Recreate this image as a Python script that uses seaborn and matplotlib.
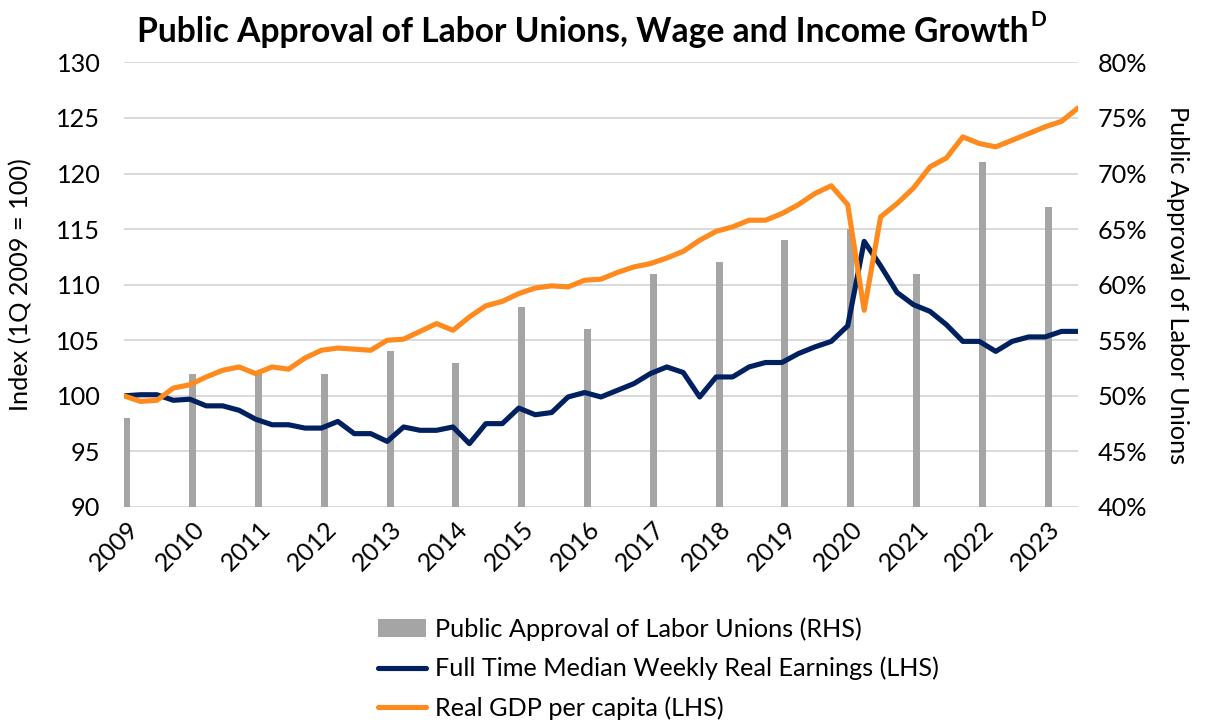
import numpy as np
import matplotlib
matplotlib.use("Agg")
import matplotlib.pyplot as plt
import seaborn as sns
from matplotlib.patches import Patch
from matplotlib.lines import Line2D
from matplotlib.ticker import FuncFormatter, MultipleLocator

# ---------------- data ----------------
bar_years = [2009, 2010, 2011, 2012, 2013, 2014, 2015, 2016, 2017, 2018, 2019, 2020, 2021, 2022, 2023]
approval = [48, 52, 52, 52, 54, 53, 58, 56, 61, 62, 64, 65, 61, 71, 67]

quarters = [f"{2009 + i // 4}Q{i % 4 + 1}" for i in range(59)]
quarter_pos = [2009 + i / 4 for i in range(59)]

earnings = [100.0, 100.1, 100.1, 99.6, 99.7, 99.1, 99.1, 98.7, 97.9, 97.4,
            97.4, 97.1, 97.1, 97.7, 96.6, 96.6, 95.9, 97.2, 96.9, 96.9,
            97.2, 95.7, 97.5, 97.5, 98.9, 98.3, 98.5, 99.9, 100.3, 99.9,
            100.5, 101.1, 102.0, 102.6, 102.1, 99.9, 101.7, 101.7, 102.6, 103.0,
            103.0, 103.8, 104.4, 104.9, 106.3, 113.9, 111.7, 109.3, 108.2, 107.6,
            106.4, 104.9, 104.9, 104.0, 104.9, 105.3, 105.3, 105.8, 105.8]

gdp = [100.0, 99.5, 99.6, 100.7, 101.0, 101.7, 102.3, 102.6, 102.0, 102.6,
       102.4, 103.4, 104.1, 104.3, 104.2, 104.1, 105.0, 105.1, 105.8, 106.5,
       105.9, 107.1, 108.1, 108.5, 109.2, 109.7, 109.9, 109.8, 110.4, 110.5,
       111.1, 111.6, 111.9, 112.4, 113.0, 114.0, 114.8, 115.2, 115.8, 115.8,
       116.4, 117.2, 118.2, 118.9, 117.2, 107.7, 116.1, 117.3, 118.7, 120.6,
       121.4, 123.3, 122.7, 122.4, 123.0, 123.6, 124.2, 124.7, 125.9]

year_labels = [str(y) for y in bar_years]

title = "Public Approval of Labor Unions, Wage and Income Growth"
left_label = "Index (1Q 2009 = 100)"
right_label = "Public Approval of Labor Unions"
lbl_bar = "Public Approval of Labor Unions (RHS)"
lbl_earn = "Full Time Median Weekly Real Earnings (LHS)"
lbl_gdp = "Real GDP per capita (LHS)"

GRAY = "#A5A5A5"
NAVY = "#002060"
ORANGE = "#FF8A1E"

# ---------------- style ----------------
sns.set_theme(style="white")
plt.rcParams["font.family"] = ["Lato", "DejaVu Sans"]
plt.rcParams["text.color"] = "black"
plt.rcParams["axes.labelcolor"] = "black"
plt.rcParams["xtick.color"] = "black"
plt.rcParams["ytick.color"] = "black"

FS = 18.2

W, H = 1207, 723
fig = plt.figure(figsize=(W / 100, H / 100), dpi=100)
fig.patch.set_facecolor("white")

L, R, T, B = 124, 1078, 62.4, 507
ax = fig.add_axes([L / W, 1 - B / H, (R - L) / W, (B - T) / H])
ax2 = ax.twinx()

# bars on right axis
bar_x = [y + 0.045 for y in bar_years]
sns.barplot(x=bar_x, y=approval, native_scale=True, ax=ax2, color=GRAY,
            saturation=1, width=0.107, linewidth=0)

# lines on left axis
sns.lineplot(x=quarter_pos, y=earnings, ax=ax, color=NAVY, linewidth=3.7,
             legend=False, sort=False)
sns.lineplot(x=quarter_pos, y=gdp, ax=ax, color=ORANGE, linewidth=3.7,
             legend=False, sort=False)

ax.set_zorder(ax2.get_zorder() + 1)
ax.patch.set_visible(False)

ax.set_xlim(2009, 2023.5)
ax2.set_xlim(2009, 2023.5)
ax.set_ylim(90, 130)
ax2.set_ylim(40, 80)
ax.yaxis.set_major_locator(MultipleLocator(5))
ax2.yaxis.set_major_locator(MultipleLocator(5))
ax2.yaxis.set_major_formatter(FuncFormatter(lambda v, p: f"{v:.0f}%"))

ax2.yaxis.grid(True, color="#D9D9D9", linewidth=1.4)
ax2.set_axisbelow(True)
ax.grid(False)
ax2.xaxis.grid(False)

for a in (ax, ax2):
    for s in a.spines.values():
        s.set_visible(False)

ax.set_xticks(bar_x)
ax.set_xticklabels(year_labels, rotation=45, ha="right", rotation_mode="anchor")
ax.tick_params(axis="x", length=0, pad=7, labelsize=FS)
ax.tick_params(axis="y", length=0, pad=17, labelsize=FS)
ax2.tick_params(axis="y", length=0, pad=14, labelsize=FS)
ax2.set_xlabel("")
ax.set_xlabel("")

ax.set_ylabel(left_label, fontsize=FS, labelpad=17)
ax2.set_ylabel(right_label, fontsize=FS, rotation=270, labelpad=30)

# title with superscript
t = fig.text(583 / W, 1 - 32 / H, title, ha="center", va="center",
             fontsize=24.2, fontweight="bold")
fig.canvas.draw()
bb = t.get_window_extent(fig.canvas.get_renderer())
fig.text((bb.x1 + 2) / W, (bb.y1 - 4) / H, "D", ha="left", va="center",
         fontsize=15, fontweight="bold")

# legend
handles = [Patch(facecolor=GRAY, edgecolor="none"),
           Line2D([0], [0], color=NAVY, lw=3.7),
           Line2D([0], [0], color=ORANGE, lw=3.7)]
fig.legend(handles, [lbl_bar, lbl_earn, lbl_gdp], loc="upper left",
           bbox_to_anchor=(378 / W, 1 - 617 / H), frameon=False,
           fontsize=FS, handlelength=1.9, handletextpad=0.35,
           labelspacing=0.64, borderaxespad=0, borderpad=0)

fig.savefig("out.png", dpi=100, facecolor="white")
